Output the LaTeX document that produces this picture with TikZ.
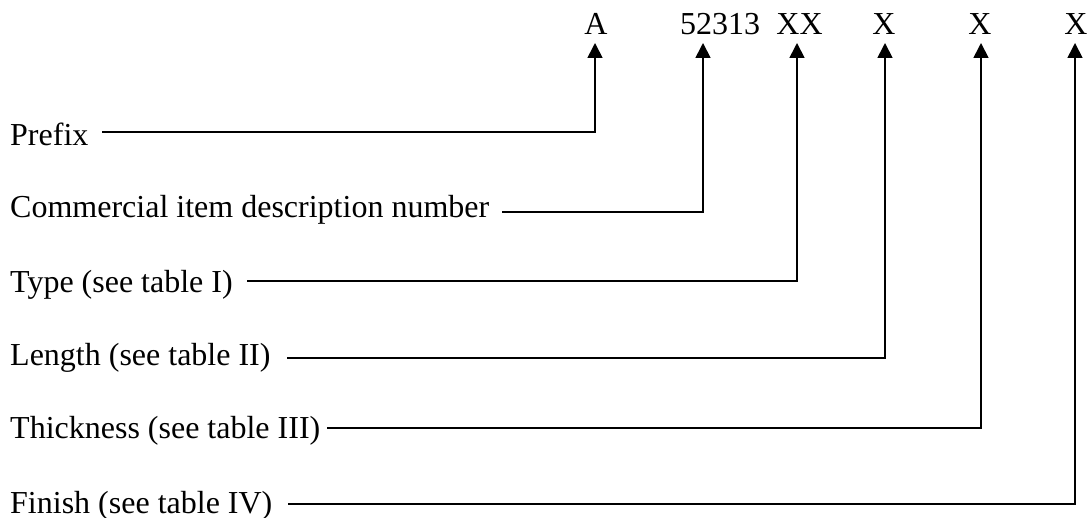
\documentclass[tikz,border=0pt]{standalone}
\usepackage{fontspec}
\setmainfont{Liberation Serif}
\usetikzlibrary{arrows.meta}
\begin{document}
\begin{tikzpicture}[x=1pt,y=-1pt,
  lbl/.style={inner sep=0pt,anchor=base west,font=\fontsize{32}{38}\selectfont},
  code/.style={inner sep=0pt,anchor=base,font=\fontsize{32}{38}\selectfont},
  conn/.style={line width=1.7pt,-{Triangle[length=15pt,width=15pt]}}]
\path[use as bounding box] (0,0) rectangle (1089,518);
% code row
\node[code] (a)  at (596,35) {A};
\node[code] (n)  at (720,35) {52313};
\node[code] (xx) at (799.5,35) {XX};
\node[code] (x1) at (884,35) {X};
\node[code] (x2) at (980,35) {X};
\node[code] (x3) at (1076,35) {X};
% labels
\node[lbl] (p)  at (10,146) {Prefix};
\node[lbl] (c)  at (10,218) {Commercial item description number};
\node[lbl] (t)  at (10,293) {Type (see table I)};
\node[lbl] (l)  at (10,365) {Length (see table II)};
\node[lbl] (th) at (10,438) {Thickness (see table III)};
\node[lbl] (f)  at (10,513) {Finish (see table IV)};
% line starts
\coordinate (ps)  at (102,132);
\coordinate (cs)  at (502,212);
\coordinate (ts)  at (247,281);
\coordinate (ls)  at (287,358);
\coordinate (ths) at (327,428);
\coordinate (fs)  at (288,504);
% arrow tips
\coordinate (at)  at (595,43);
\coordinate (nt)  at (703,43);
\coordinate (xxt) at (797,43);
\coordinate (x1t) at (885,43);
\coordinate (x2t) at (981,43);
\coordinate (x3t) at (1075,43);
\draw[conn] (ps)  -| (at);
\draw[conn] (cs)  -| (nt);
\draw[conn] (ts)  -| (xxt);
\draw[conn] (ls)  -| (x1t);
\draw[conn] (ths) -| (x2t);
\draw[conn] (fs)  -| (x3t);
\end{tikzpicture}
\end{document}
